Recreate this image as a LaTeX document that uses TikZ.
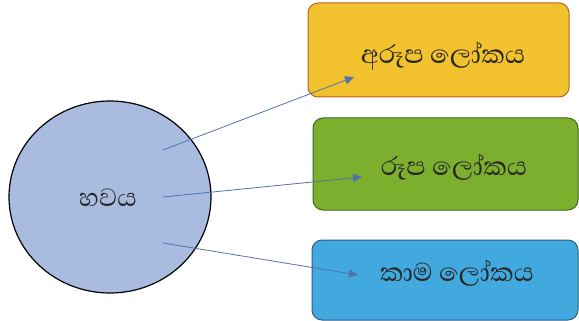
\documentclass[tikz,border=0pt]{standalone}
\usepackage{fontspec}
\newfontfamily\sinhalafnt[Script=Sinhala]{Abhaya Libre}
\usetikzlibrary{arrows.meta,shapes.geometric}
\definecolor{circfill}{HTML}{A9BCDF}
\definecolor{yelfill}{HTML}{F2C12E}
\definecolor{yelline}{HTML}{B5651D}
\definecolor{grnfill}{HTML}{7DAF2E}
\definecolor{grnline}{HTML}{3E6B1E}
\definecolor{blufill}{HTML}{41A9DD}
\definecolor{bluline}{HTML}{2F5C8A}
\definecolor{arrline}{HTML}{6F84A8}
\definecolor{arrhead}{HTML}{4F72B0}
\tikzset{
  lbox/.style={draw, line width=1pt, rounded corners=10pt, inner sep=0pt},
  ltext/.style={inner sep=0pt, text=black!85, font=\sinhalafnt\fontsize{33}{36}\selectfont},
  conn/.style={draw=arrline, line width=0.8pt, -{Triangle[length=9pt,width=8pt,fill=arrhead]}, arrhead},
}
\begin{document}
\begin{tikzpicture}[x=1pt,y=-1pt]
\useasboundingbox (0,0) rectangle (579,321);
\node[draw=black, line width=1.2pt, fill=circfill, ellipse, minimum width=202pt, minimum height=192pt, inner sep=0pt] (c) at (110,197) {};
\node[ltext, font=\sinhalafnt\fontsize{32}{36}\selectfont] (ct) at (108,198) {හවය};
\node[lbox, fill=yelfill, draw=yelline, minimum width=261pt, minimum height=94pt] (a) at (438.5,50) {};
\node[lbox, fill=grnfill, draw=grnline, minimum width=265pt, minimum height=92pt] (b) at (445.5,164) {};
\node[lbox, fill=blufill, draw=bluline, minimum width=266pt, minimum height=80pt] (k) at (445,280) {};
\node[ltext] (at) at (443,56) {අරූප ලෝකය};
\node[ltext] (bt) at (454,167) {රූප ලෝකය};
\node[ltext] (kt) at (457,273) {කාම ලෝකය};
\coordinate (s1) at (163,150);
\coordinate (s2) at (163,197);
\coordinate (s3) at (163,243);
\coordinate (t1) at (354,77);
\coordinate (t2) at (362,177);
\coordinate (t3) at (358,275);
\draw[conn] (s1) -- (t1);
\draw[conn] (s2) -- (t2);
\draw[conn] (s3) -- (t3);
\end{tikzpicture}
\end{document}
